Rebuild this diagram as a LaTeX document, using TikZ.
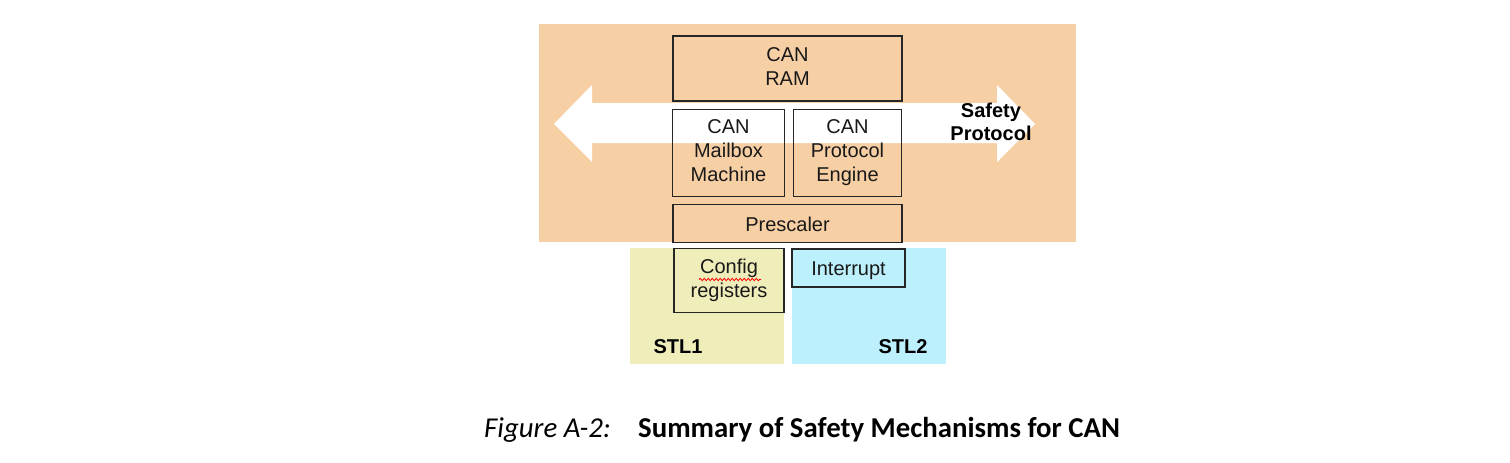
\documentclass[tikz,border=0pt]{standalone}
\usepackage{fontspec}
\setmainfont{Liberation Sans}
\newfontfamily\capfont{Carlito}
\usetikzlibrary{decorations.pathmorphing}
\definecolor{canbg}{HTML}{F7CFA4}
\definecolor{stlone}{HTML}{EFEEBB}
\definecolor{stltwo}{HTML}{BBF0FC}
\tikzset{
    blk/.style={draw=black!85, line width=1.3pt, align=center, inner sep=0pt, font=\fontsize{20}{24}\selectfont, text=black!90, execute at begin node={\rule{0pt}{19.8pt}}, execute at end node={\rule[-4.2pt]{0pt}{4.2pt}}},
    lbl/.style={font=\fontsize{20}{23}\selectfont\bfseries, align=center}
}

\begin{document}
\begin{tikzpicture}[x=1pt, y=-1pt]
\useasboundingbox (0,0) rectangle (1510,463);
\fill[canbg] (539,24) rectangle (1076,242);
\fill[stlone] (630,248) rectangle (784,364);
\fill[stltwo] (792,248) rectangle (946,364);
\fill[white] (554,124) -- (592,85) -- (592,103) -- (997,103) -- (997,85) -- (1035,124) -- (997,162) -- (997,143) -- (592,143) -- (592,162) -- cycle;
\foreach \x/\y/\w/\h/\p/\t in {787.5/68.5/229/65/ram/{CAN\\RAM}, 728.5/153/112/87/mbox/{CAN\\Mailbox\\Machine}, 847.5/153/108/87/pe/{CAN\\Protocol\\Engine}, 787.5/223.5/229/38/pre/{Prescaler}, 729/280.5/110/64/cfg/{Config\\registers}, 848.5/268/113/38/irq/{Interrupt}}{
    \node[blk, minimum width=\w, minimum height=\h] (\p) at (\x,\y) {\t};
}
\node[lbl] (sp) at (991,122) {Safety\\Protocol};
\node[lbl, anchor=base west] (stl1) at (650,353) {STL1};
\node[lbl, anchor=base west] (stl2) at (875,353) {STL2};
\draw[red, line width=0.8pt, decorate, decoration={snake, amplitude=1.2pt, segment length=4pt}] (699,279.5) -- (761,279.5);
\node[anchor=base west, inner sep=0pt, font=\capfont\fontsize{28.8}{34}\selectfont\itshape] (fig) at (484,437) {Figure A-2:};
\node[anchor=base west, inner sep=0pt, font=\capfont\fontsize{28.8}{34}\selectfont\bfseries] (cap) at (638,437) {Summary of Safety Mechanisms for CAN};
\end{tikzpicture}
\end{document}
